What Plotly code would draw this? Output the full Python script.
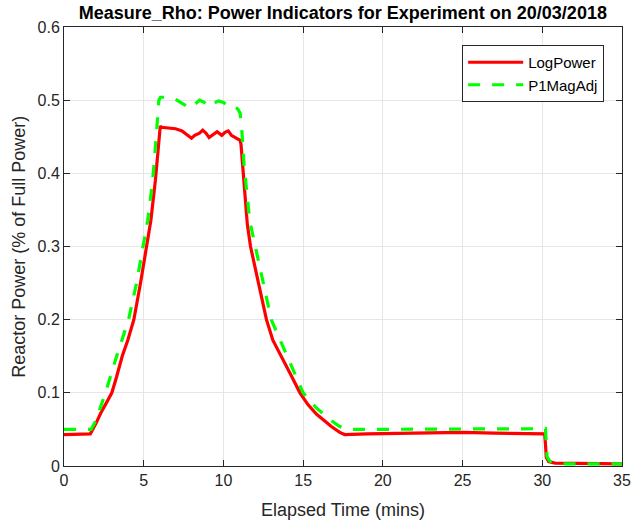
import plotly.graph_objects as go

# LogPower (red)
log_t = [0, 1.0, 1.65, 2.0, 2.3, 2.7, 3.0, 3.3, 3.65, 4.0, 4.38, 4.8, 5.15, 5.45, 5.73, 5.9, 6.04,
         6.1, 6.5, 7.0, 7.4, 7.8, 8.0, 8.2, 8.5, 8.7, 8.9, 9.1, 9.3, 9.6, 9.9, 10.1, 10.3, 10.5, 10.8, 11.05,
         11.1, 11.2, 11.35, 11.5, 11.7, 12.2, 12.7, 13.1, 13.6, 14.17, 14.8, 15.3, 15.83, 16.77, 17.3, 17.6,
         19, 21, 23, 25, 27, 29, 30.15, 30.2, 30.25, 30.4, 30.8, 35]
log_p = [0.043, 0.043, 0.044, 0.058, 0.072, 0.088, 0.1, 0.122, 0.15, 0.172, 0.2, 0.25, 0.3, 0.336, 0.39, 0.43, 0.465,
         0.463, 0.462, 0.461, 0.458, 0.452, 0.448, 0.452, 0.455, 0.459, 0.455, 0.449, 0.452, 0.457, 0.452, 0.456, 0.458, 0.452, 0.448, 0.445,
         0.44, 0.41, 0.364, 0.33, 0.3, 0.25, 0.2, 0.172, 0.15, 0.127, 0.1, 0.084, 0.071, 0.054, 0.046, 0.043,
         0.044, 0.045, 0.045, 0.046, 0.045, 0.045, 0.044, 0.03, 0.012, 0.006, 0.004, 0.003]

# P1MagAdj (green dashed)
mag_t = [0, 1.0, 1.7, 2.0, 2.6, 3.3, 4.05, 4.55, 4.95, 5.25, 5.45, 5.6, 5.8, 5.95, 6.05,
         6.2, 6.6, 7.0, 7.3, 7.6, 7.9, 8.2, 8.5, 8.8, 9.1, 9.4, 9.7, 10.0, 10.3, 10.6, 10.9, 11.05,
         11.15, 11.3, 11.5, 11.65, 12.0, 12.5, 13.0, 14.0, 15.0, 15.8, 16.7, 17.3, 17.7,
         18, 20, 22, 24, 26, 28, 30.2, 30.25, 30.3, 30.45, 30.7, 31.2, 35]
mag_p = [0.05, 0.05, 0.05, 0.062, 0.1, 0.15, 0.2, 0.25, 0.3, 0.336, 0.37, 0.4, 0.455, 0.5, 0.504,
         0.504, 0.504, 0.501, 0.497, 0.492, 0.489, 0.494, 0.5, 0.497, 0.491, 0.496, 0.499, 0.497, 0.492, 0.493, 0.488, 0.482,
         0.46, 0.41, 0.365, 0.335, 0.3, 0.25, 0.2, 0.15, 0.1, 0.08, 0.063, 0.054, 0.05,
         0.05, 0.05, 0.05, 0.051, 0.051, 0.051, 0.051, 0.03, 0.013, 0.007, 0.004, 0.003, 0.003]

x_ticks = [0, 5, 10, 15, 20, 25, 30, 35]
y_ticks = [0, 0.1, 0.2, 0.3, 0.4, 0.5, 0.6]
y_labels = ['0', '0.1', '0.2', '0.3', '0.4', '0.5', '0.6']

fig = go.Figure()
fig.add_trace(go.Scatter(x=log_t, y=log_p, mode='lines', name='LogPower',
                         line=dict(color='#ff0000', width=3.2)))
fig.add_trace(go.Scatter(x=mag_t, y=mag_p, mode='lines', name='P1MagAdj',
                         line=dict(color='#00ff00', width=3.2, dash='12px,12px')))

axis_common = dict(showline=True, linecolor='#262626', linewidth=1, mirror='ticks',
                   ticks='inside', ticklen=6, tickcolor='#262626', automargin=False,
                   showgrid=True, gridcolor='#e6e6e6', gridwidth=1, zeroline=False,
                   tickfont=dict(size=16, color='#262626'))

fig.update_xaxes(range=[0, 35], tickvals=x_ticks,
                 title=dict(text='Elapsed Time (mins)', font=dict(size=18, color='#262626')),
                 **axis_common)
fig.update_yaxes(range=[0, 0.6], tickvals=y_ticks, ticktext=y_labels, **axis_common)

# y title as annotation so it can sit a bit closer to the ticks
fig.add_annotation(text='Reactor Power (% of Full Power)', textangle=-90,
                   xref='paper', yref='paper', x=-0.082, y=0.5,
                   xanchor='center', yanchor='middle', showarrow=False,
                   font=dict(size=18, color='#262626'))

fig.update_layout(
    width=633, height=525,
    margin=dict(l=64, r=11, t=27, b=59),
    paper_bgcolor='white', plot_bgcolor='white',
    font=dict(family='Arial, Liberation Sans, sans-serif', color='#262626'),
    title=dict(text='<b>Measure_Rho: Power Indicators for Experiment on 20/03/2018</b>',
               x=0.5416, xanchor='center', y=0.975, yanchor='middle',
               font=dict(size=18, color='black')),
    legend=dict(x=0.968, xanchor='right', y=0.959, yanchor='top',
                bgcolor='white', bordercolor='#262626', borderwidth=1, itemwidth=55,
                font=dict(size=15, color='black'), tracegroupgap=0),
    showlegend=True,
)

# drop the browser's default body margin so the figure sits at the page origin
fig.write_html("out.html", config={'displayModeBar': False},
               post_script="document.body.style.margin='0px';")
